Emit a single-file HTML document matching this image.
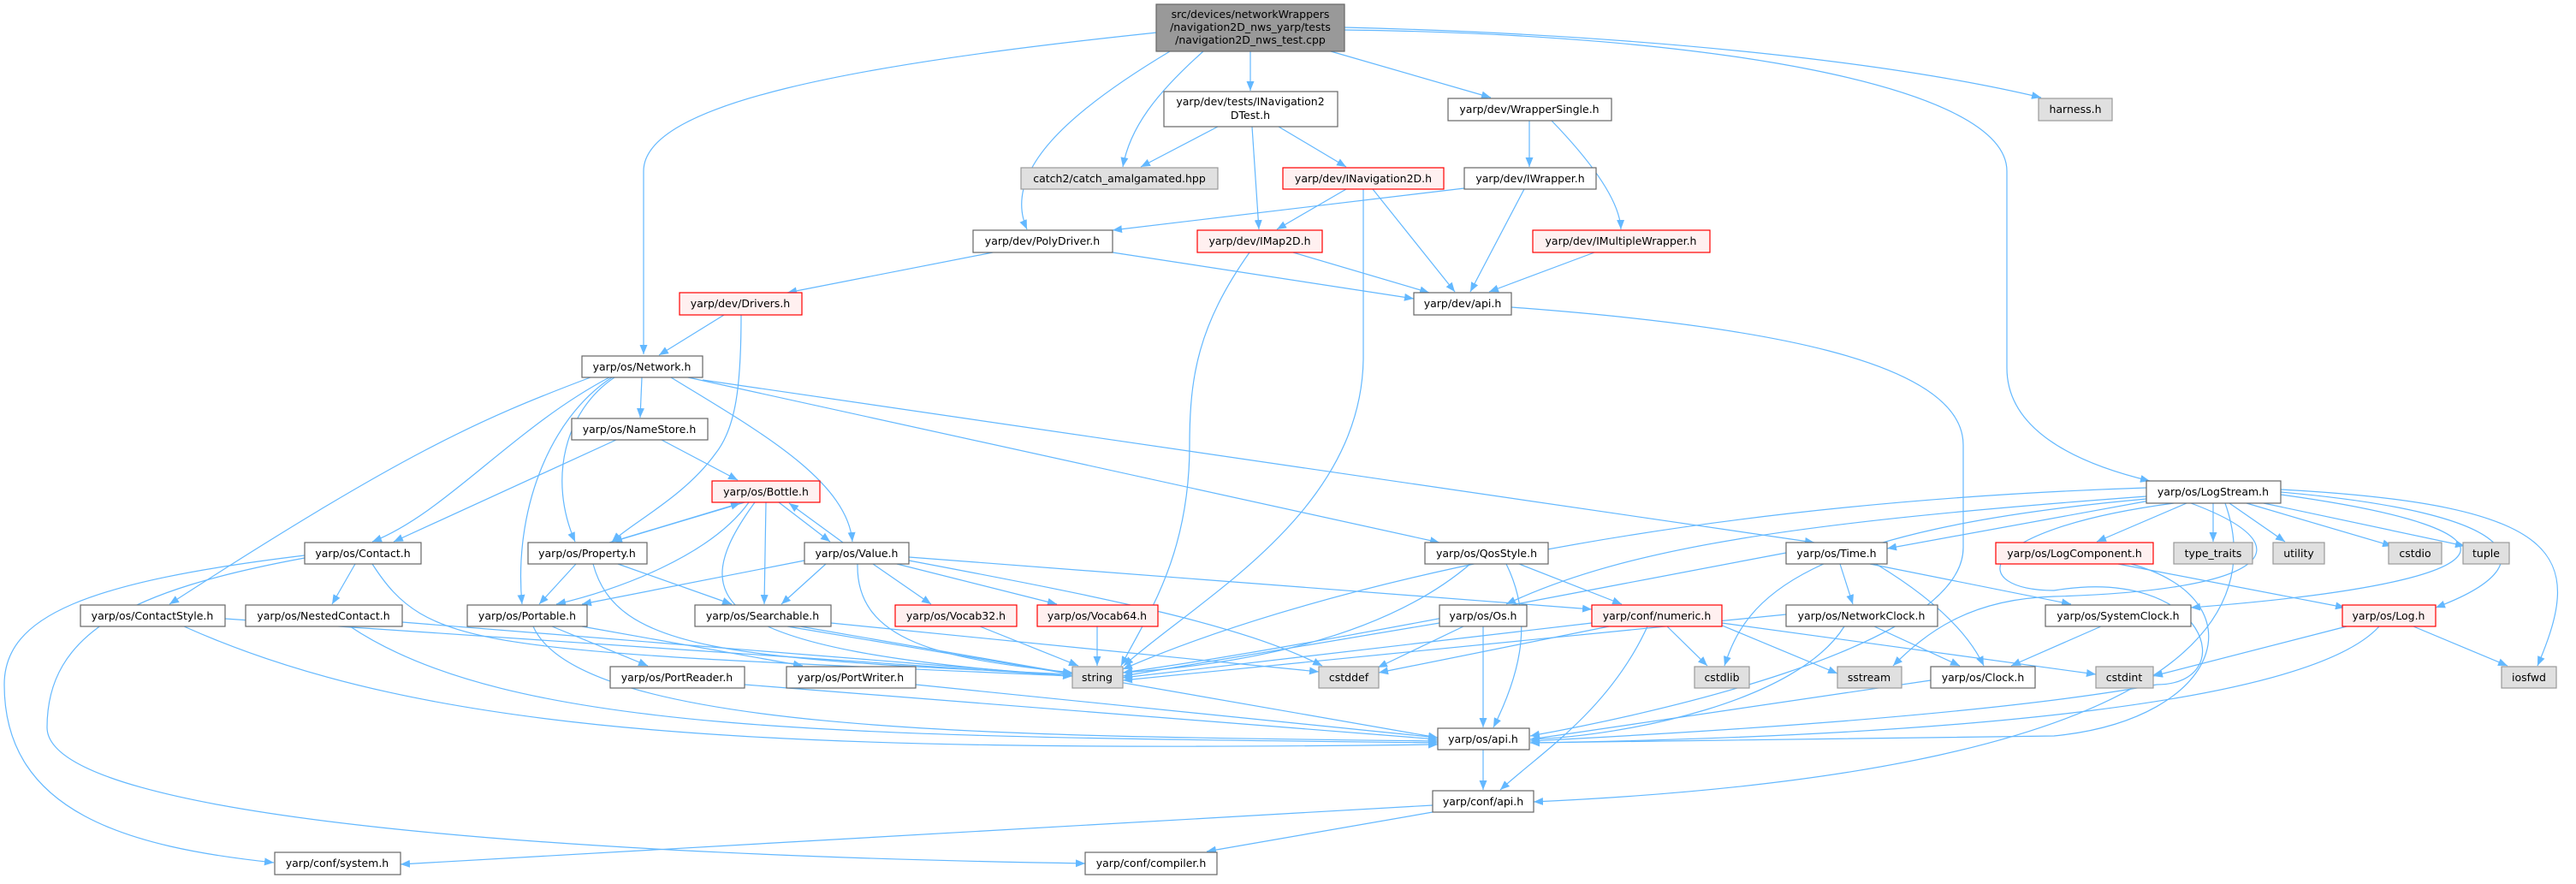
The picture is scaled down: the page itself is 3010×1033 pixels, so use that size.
<!DOCTYPE html>
<html><head><meta charset="utf-8"><style>
html,body{margin:0;padding:0;background:#fff;}
svg{display:block;}
text{font-family:"DejaVu Sans","Liberation Sans",sans-serif;font-size:12.5px;fill:#000;text-anchor:middle;}
.n{fill:#fff;stroke:#666;stroke-width:1.2;}
.g{fill:#e0e0e0;stroke:#999;stroke-width:1.2;}
.r{fill:#fff0f0;stroke:#f00;stroke-width:1.2;}
.root{fill:#999;stroke:#666;stroke-width:1.2;}
.e path{fill:none;stroke:#63b8ff;stroke-width:1.2;marker-end:url(#a);}
</style></head><body>
<svg width="3010" height="1033" viewBox="0 0 3010 1033" xmlns="http://www.w3.org/2000/svg">
<defs><marker id="a" markerUnits="userSpaceOnUse" markerWidth="12" markerHeight="9" refX="11" refY="4.5" orient="auto"><path d="M0,0 L11,4.5 L0,9 z" fill="#63b8ff"/></marker></defs>
<g class="e">
<path d="M1352,38 C1000,75 752,120 752,200 L752,414"/>
<path d="M1367,60 C1250,130 1170,200 1200,268"/>
<path d="M1406,60 C1350,110 1320,150 1312,195"/>
<path d="M1461,60 L1461,106"/>
<path d="M1555,60 L1742,114"/>
<path d="M1571,32 C1900,40 2200,70 2385,114"/>
<path d="M1571,35 C2000,40 2345,100 2345,200 L2345,430 C2345,500 2420,540 2512,562"/>
<path d="M1423,148 L1333,195"/>
<path d="M1463,148 L1471,268"/>
<path d="M1494,148 L1573,195"/>
<path d="M1787,141 L1787,195"/>
<path d="M1813,141 C1870,200 1893,240 1894,268"/>
<path d="M1573,221 L1492,268"/>
<path d="M1604,221 L1700,341"/>
<path d="M1593,221 L1593,420 C1590,600 1400,700 1313,778"/>
<path d="M1460,295 C1400,380 1390,440 1390,520 C1390,650 1340,720 1310,778"/>
<path d="M1711,220 L1300,269"/>
<path d="M1781,221 L1718,341"/>
<path d="M1300,295 L1652,349"/>
<path d="M1160,295 L920,342"/>
<path d="M1511,295 L1670,342"/>
<path d="M1863,295 L1740,341"/>
<path d="M1766,359 C2050,380 2294,420 2294,520 L2294,640 C2294,760 1900,840 1788,860"/>
<path d="M846,368 L770,415"/>
<path d="M866,368 C866,450 860,500 836,530 C800,580 740,610 715,633"/>
<path d="M690,441 C560,490 470,530 198,706"/>
<path d="M712,441 C600,500 520,600 435,633"/>
<path d="M720,514 L460,633"/>
<path d="M715,441 C640,490 600,600 610,706"/>
<path d="M718,441 C660,480 640,560 672,633"/>
<path d="M750,441 L748,488"/>
<path d="M773,514 L862,561"/>
<path d="M784,441 C880,500 990,560 996,633"/>
<path d="M804,441 L1682,634"/>
<path d="M821,444 L2120,634"/>
<path d="M870,587 L716,633"/>
<path d="M712,634 L865,588"/>
<path d="M910,587 L970,633"/>
<path d="M985,634 L922,588"/>
<path d="M875,587 C830,650 720,690 650,706"/>
<path d="M895,587 L893,706"/>
<path d="M882,587 C800,700 820,760 1253,790"/>
<path d="M673,659 L630,706"/>
<path d="M722,659 L855,706"/>
<path d="M693,659 C720,760 850,770 1253,788"/>
<path d="M940,655 L680,706"/>
<path d="M965,659 L913,706"/>
<path d="M1020,659 L1088,706"/>
<path d="M1048,659 L1235,706"/>
<path d="M1002,659 C1000,750 1100,770 1253,786"/>
<path d="M1062,655 C1300,700 1450,730 1545,778"/>
<path d="M1062,651 L1860,712"/>
<path d="M415,659 L388,706"/>
<path d="M435,659 C500,760 560,760 1253,790"/>
<path d="M356,649 C100,680 5,720 5,800 C5,950 150,990 320,1008"/>
<path d="M356,652 C150,690 55,740 55,850 C55,960 700,1000 1268,1009"/>
<path d="M215,732 C500,860 900,880 1680,870"/>
<path d="M263,723 L1253,790"/>
<path d="M409,732 C600,860 1000,860 1680,868"/>
<path d="M470,727 L1253,790"/>
<path d="M645,732 L757,778"/>
<path d="M680,732 L938,778"/>
<path d="M623,732 C680,860 1200,860 1680,866"/>
<path d="M920,732 L1253,788"/>
<path d="M935,732 L1680,862"/>
<path d="M971,728 L1541,785"/>
<path d="M870,800 L1680,864"/>
<path d="M1070,800 L1680,862"/>
<path d="M1145,732 L1260,778"/>
<path d="M1282,732 L1282,778"/>
<path d="M1718,659 C1600,760 1400,780 1312,786"/>
<path d="M1760,659 C1790,720 1780,780 1745,850"/>
<path d="M1775,659 L1895,706"/>
<path d="M1682,728 L1312,790"/>
<path d="M1710,732 L1610,780"/>
<path d="M1733,732 L1733,850"/>
<path d="M1860,728 L1312,792"/>
<path d="M1880,732 L1611,786"/>
<path d="M1948,732 L1995,778"/>
<path d="M1925,732 C1880,830 1800,880 1753,923"/>
<path d="M2010,730 L2147,787"/>
<path d="M2012,728 L2449,788"/>
<path d="M1733,876 L1733,923"/>
<path d="M1674,941 L468,1010"/>
<path d="M1674,949 L1410,995"/>
<path d="M2508,570 C1900,590 1500,700 1312,782"/>
<path d="M2512,585 L2205,641"/>
<path d="M2555,588 L2450,633"/>
<path d="M2586,588 L2586,633"/>
<path d="M2605,588 L2670,633"/>
<path d="M2625,588 L2795,638"/>
<path d="M2645,588 L2880,638"/>
<path d="M2665,575 C2950,600 2980,660 2846,710"/>
<path d="M2665,572 C3000,590 3020,650 2965,778"/>
<path d="M2665,578 C2970,620 2950,680 2560,710"/>
<path d="M2560,588 C2700,640 2650,690 2400,697 C2300,700 2250,740 2212,778"/>
<path d="M2508,583 C2100,620 2040,700 2015,778"/>
<path d="M2540,588 C2300,620 2300,690 2400,690 C2580,660 2620,800 2520,800 C2300,840 1900,860 1788,866"/>
<path d="M2508,580 C2100,610 1900,640 1760,706"/>
<path d="M2600,588 C2640,700 2600,900 1792,937"/>
<path d="M2087,646 C1800,700 1500,760 1312,786"/>
<path d="M2150,659 L2165,706"/>
<path d="M2185,659 L2420,706"/>
<path d="M2192,659 C2260,700 2300,740 2318,778"/>
<path d="M2087,718 L1312,795"/>
<path d="M2190,732 L2290,778"/>
<path d="M2155,732 C2100,820 1900,860 1788,864"/>
<path d="M2455,732 L2350,778"/>
<path d="M2256,795 L1788,864"/>
<path d="M2475,659 L2740,710"/>
<path d="M2490,659 C2640,700 2600,840 2400,860 L1788,868"/>
<path d="M2742,732 L2516,790"/>
<path d="M2820,732 L2930,778"/>
<path d="M2780,732 C2700,820 2300,860 1788,868"/>
</g>
<g>
<rect class="root" x="1351" y="5" width="220" height="55"/>
<text x="1461" y="21">src/devices/networkWrappers</text>
<text x="1461" y="36">/navigation2D_nws_yarp/tests</text>
<text x="1461" y="51">/navigation2D_nws_test.cpp</text>
<rect class="g" x="2382" y="115" width="86" height="26"/><text x="2425" y="132">harness.h</text>
<rect class="n" x="1360" y="107" width="203" height="41"/><text x="1461" y="123">yarp/dev/tests/INavigation2</text><text x="1461" y="139">DTest.h</text>
<rect class="n" x="1692" y="115" width="191" height="26"/><text x="1787" y="132">yarp/dev/WrapperSingle.h</text>
<rect class="g" x="1193" y="196" width="230" height="25"/><text x="1308" y="213">catch2/catch_amalgamated.hpp</text>
<rect class="r" x="1499" y="196" width="188" height="25"/><text x="1593" y="213">yarp/dev/INavigation2D.h</text>
<rect class="n" x="1711" y="196" width="154" height="25"/><text x="1788" y="213">yarp/dev/IWrapper.h</text>
<rect class="n" x="1137" y="269" width="163" height="26"/><text x="1218" y="286">yarp/dev/PolyDriver.h</text>
<rect class="r" x="1399" y="269" width="146" height="26"/><text x="1472" y="286">yarp/dev/IMap2D.h</text>
<rect class="r" x="1791" y="269" width="207" height="26"/><text x="1894" y="286">yarp/dev/IMultipleWrapper.h</text>
<rect class="r" x="794" y="342" width="143" height="26"/><text x="865" y="359">yarp/dev/Drivers.h</text>
<rect class="n" x="1652" y="342" width="114" height="26"/><text x="1709" y="359">yarp/dev/api.h</text>
<rect class="n" x="680" y="416" width="141" height="25"/><text x="750" y="433">yarp/os/Network.h</text>
<rect class="n" x="668" y="489" width="159" height="25"/><text x="747" y="506">yarp/os/NameStore.h</text>
<rect class="r" x="832" y="562" width="126" height="25"/><text x="895" y="579">yarp/os/Bottle.h</text>
<rect class="n" x="2508" y="562" width="157" height="26"/><text x="2586" y="579">yarp/os/LogStream.h</text>
<rect class="n" x="356" y="634" width="136" height="25"/><text x="424" y="651">yarp/os/Contact.h</text>
<rect class="n" x="617" y="634" width="139" height="25"/><text x="686" y="651">yarp/os/Property.h</text>
<rect class="n" x="940" y="634" width="122" height="25"/><text x="1001" y="651">yarp/os/Value.h</text>
<rect class="n" x="1665" y="634" width="144" height="25"/><text x="1737" y="651">yarp/os/QosStyle.h</text>
<rect class="n" x="2087" y="634" width="118" height="25"/><text x="2146" y="651">yarp/os/Time.h</text>
<rect class="r" x="2332" y="634" width="184" height="25"/><text x="2424" y="651">yarp/os/LogComponent.h</text>
<rect class="g" x="2540" y="634" width="92" height="25"/><text x="2586" y="651">type_traits</text>
<rect class="g" x="2656" y="634" width="60" height="25"/><text x="2686" y="651">utility</text>
<rect class="g" x="2791" y="634" width="62" height="25"/><text x="2822" y="651">cstdio</text>
<rect class="g" x="2878" y="634" width="54" height="25"/><text x="2905" y="651">tuple</text>
<rect class="n" x="94" y="707" width="169" height="25"/><text x="178" y="724">yarp/os/ContactStyle.h</text>
<rect class="n" x="287" y="707" width="183" height="25"/><text x="378" y="724">yarp/os/NestedContact.h</text>
<rect class="n" x="546" y="707" width="140" height="25"/><text x="616" y="724">yarp/os/Portable.h</text>
<rect class="n" x="812" y="707" width="159" height="25"/><text x="891" y="724">yarp/os/Searchable.h</text>
<rect class="r" x="1046" y="707" width="142" height="25"/><text x="1117" y="724">yarp/os/Vocab32.h</text>
<rect class="r" x="1212" y="707" width="141" height="25"/><text x="1282" y="724">yarp/os/Vocab64.h</text>
<rect class="n" x="1682" y="707" width="102" height="25"/><text x="1733" y="724">yarp/os/Os.h</text>
<rect class="r" x="1860" y="707" width="152" height="25"/><text x="1936" y="724">yarp/conf/numeric.h</text>
<rect class="n" x="2087" y="707" width="177" height="25"/><text x="2175" y="724">yarp/os/NetworkClock.h</text>
<rect class="n" x="2390" y="707" width="170" height="25"/><text x="2475" y="724">yarp/os/SystemClock.h</text>
<rect class="r" x="2737" y="707" width="109" height="25"/><text x="2791" y="724">yarp/os/Log.h</text>
<rect class="n" x="713" y="779" width="157" height="25"/><text x="791" y="796">yarp/os/PortReader.h</text>
<rect class="n" x="919" y="779" width="151" height="25"/><text x="994" y="796">yarp/os/PortWriter.h</text>
<rect class="g" x="1253" y="779" width="59" height="25"/><text x="1282" y="796">string</text>
<rect class="g" x="1541" y="779" width="70" height="25"/><text x="1576" y="796">cstddef</text>
<rect class="g" x="1980" y="779" width="64" height="25"/><text x="2012" y="796">cstdlib</text>
<rect class="g" x="2147" y="779" width="75" height="25"/><text x="2184" y="796">sstream</text>
<rect class="n" x="2256" y="779" width="122" height="25"/><text x="2317" y="796">yarp/os/Clock.h</text>
<rect class="g" x="2449" y="779" width="67" height="25"/><text x="2482" y="796">cstdint</text>
<rect class="g" x="2923" y="779" width="64" height="25"/><text x="2955" y="796">iosfwd</text>
<rect class="n" x="1680" y="851" width="107" height="25"/><text x="1733" y="868">yarp/os/api.h</text>
<rect class="n" x="1674" y="924" width="118" height="25"/><text x="1733" y="941">yarp/conf/api.h</text>
<rect class="n" x="321" y="996" width="147" height="26"/><text x="394" y="1013">yarp/conf/system.h</text>
<rect class="n" x="1268" y="996" width="154" height="26"/><text x="1345" y="1013">yarp/conf/compiler.h</text>
</g>
</svg>
</body></html>
